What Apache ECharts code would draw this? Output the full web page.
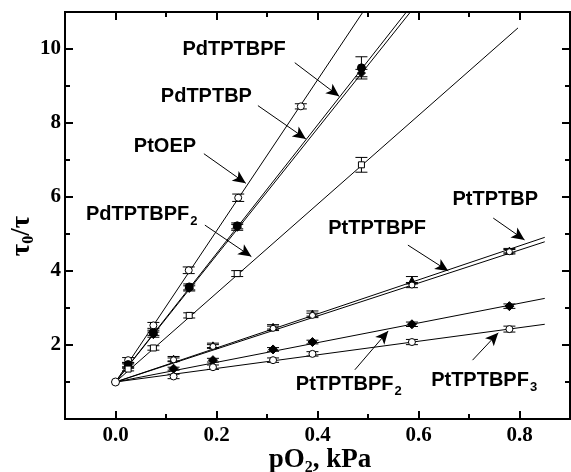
<!DOCTYPE html>
<html>
<head>
<meta charset="utf-8">
<script src="https://cdn.jsdelivr.net/npm/echarts@6/dist/echarts.min.js"></script>
<style>html,body{margin:0;padding:0;background:#fff}#c{width:571px;height:472px}</style>
</head>
<body>
<div id="c"></div>
<script>
// ---- tick values ----
const xMajorTicks = [0, 0.2, 0.4, 0.6, 0.8];
const xMinorTicks = [0.1, 0.3, 0.5, 0.7];
const yMajorTicks = [2, 4, 6, 8, 10];
const yMinorTicks = [1, 3, 5, 7, 9];

// ---- origin point ----
const originX = [0];
const originY = [1];

// ---- measured points (x in kPa, y = tau0/tau), error half-widths ----
const ptoepX = [0.025, 0.075, 0.145, 0.243, 0.367];
const ptoepY = [1.59, 2.53, 4.02, 5.98, 8.45];
const ptoepErr = [0.07, 0.08, 0.09, 0.1, 0.07];

const pdX = [0.025, 0.075, 0.146, 0.241, 0.487];
const pdtptbpfY = [1.47, 2.33, 3.57, 5.22, 9.49];
const pdtptbpfErr = [0.06, 0.07, 0.08, 0.08, 0.3];
const pdtptbpY = [1.43, 2.28, 3.53, 5.18, 9.35];
const pdtptbpErr = [0.06, 0.07, 0.07, 0.08, 0.1];
const pdtptbpf2Y = [1.35, 1.92, 2.80, 3.93, 6.87];
const pdtptbpf2Err = [0.05, 0.06, 0.07, 0.08, 0.2];

const ptX = [0.115, 0.193, 0.312, 0.39, 0.587, 0.78];
const pttptbpY = [1.63, 1.99, 2.49, 2.85, 3.75, 4.55];
const pttptbpErr = [0.06, 0.06, 0.06, 0.07, 0.1, 0.06];
const pttptbpfY = [1.60, 1.96, 2.45, 2.80, 3.62, 4.52];
const pttptbpfErr = [0.05, 0.05, 0.06, 0.06, 0.07, 0.06];
const pttptbpf2Y = [1.36, 1.59, 1.88, 2.08, 2.56, 3.05];
const pttptbpf2Err = [0.04, 0.05, 0.05, 0.05, 0.06, 0.06];
const pttptbpf3Y = [1.15, 1.40, 1.59, 1.76, 2.08, 2.43];
const pttptbpf3Err = [0.06, 0.06, 0.06, 0.06, 0.07, 0.08];

// ---- Stern-Volmer fit lines: start (0,1) and end points ----
const fitNames = ['PtOEP', 'PdTPTBPF', 'PdTPTBP', 'PdTPTBPF2', 'PtTPTBP', 'PtTPTBPF', 'PtTPTBPF2', 'PtTPTBPF3'];
const fitEndX = [0.49, 0.576, 0.584, 0.797, 0.85, 0.85, 0.85, 0.85];
const fitEndY = [11, 11, 11, 10.57, 4.91, 4.79, 3.26, 2.56];

// ---- annotations: label text, label centre, arrow start, arrow end (data units) ----
const annoText = ['{m|PdTPTBPF}', '{m|PdTPTBP}', '{m|PtOEP}', '{m|PdTPTBPF}{s|2}', '{m|PtTPTBP}', '{m|PtTPTBPF}', '{m|PtTPTBPF}{s|2}', '{m|PtTPTBPF}{s|3}'];
const annoX = [0.235, 0.18, 0.098, 0.052, 0.752, 0.518, 0.462, 0.730];
const annoY = [9.98, 8.72, 7.37, 5.54, 5.92, 5.14, 0.93, 1.04];
const arrowX1 = [0.355, 0.282, 0.175, 0.177, 0.748, 0.579, 0.474, 0.707];
const arrowY1 = [9.63, 8.47, 7.17, 5.24, 5.43, 4.70, 1.33, 1.59];
const arrowX2 = [0.443, 0.377, 0.258, 0.269, 0.81, 0.659, 0.54, 0.758];
const arrowY2 = [8.72, 7.57, 6.37, 4.39, 4.84, 4.0, 2.38, 2.33];

const SERIF = '"Liberation Serif", "Times New Roman", serif';
const SANS = '"Liberation Sans", Arial, sans-serif';

function pts(xs, ys) { return xs.map((x, i) => [x, ys[i]]); }
function errs(xs, ys, es) { return xs.map((x, i) => [x, ys[i] - es[i], ys[i] + es[i]]); }

function errorSeries(data) {
  return {
    type: 'custom', xAxisIndex: 0, yAxisIndex: 0, z: 3, silent: true,
    data: data,
    renderItem: function (params, api) {
      const x = api.value(0);
      const lo = api.coord([x, api.value(1)]);
      const hi = api.coord([x, api.value(2)]);
      const w = 6;
      const st = { stroke: '#000', lineWidth: 1, fill: null };
      return {
        type: 'group',
        children: [
          { type: 'line', shape: { x1: lo[0], y1: lo[1], x2: hi[0], y2: hi[1] }, style: st },
          { type: 'line', shape: { x1: lo[0] - w, y1: lo[1], x2: lo[0] + w, y2: lo[1] }, style: st },
          { type: 'line', shape: { x1: hi[0] - w, y1: hi[1], x2: hi[0] + w, y2: hi[1] }, style: st }
        ]
      };
    }
  };
}

function scatterSeries(name, data, symbol, filled, size) {
  return {
    name: name, type: 'scatter', xAxisIndex: 0, yAxisIndex: 0, z: 4, silent: true,
    data: data, symbol: symbol, symbolSize: size || 7,
    itemStyle: { color: filled ? '#000' : '#fff', borderColor: '#000', borderWidth: 1, opacity: 1 }
  };
}

const series = [];
// fit lines
fitNames.forEach((n, i) => {
  series.push({
    type: 'line', xAxisIndex: 0, yAxisIndex: 0, z: 2, silent: true, symbol: 'none',
    data: [[0, 1], [fitEndX[i], fitEndY[i]]],
    lineStyle: { color: '#000', width: 1 }, clip: true
  });
});
// error bars
series.push(errorSeries(errs(ptoepX, ptoepY, ptoepErr)));
series.push(errorSeries(errs(pdX, pdtptbpfY, pdtptbpfErr)));
series.push(errorSeries(errs(pdX, pdtptbpY, pdtptbpErr)));
series.push(errorSeries(errs(pdX, pdtptbpf2Y, pdtptbpf2Err)));
series.push(errorSeries(errs(ptX, pttptbpY, pttptbpErr)));
series.push(errorSeries(errs(ptX, pttptbpfY, pttptbpfErr)));
series.push(errorSeries(errs(ptX, pttptbpf2Y, pttptbpf2Err)));
series.push(errorSeries(errs(ptX, pttptbpf3Y, pttptbpf3Err)));
// markers
series.push(scatterSeries('PtOEP', pts(ptoepX, ptoepY), 'circle', false, 7));
series.push(scatterSeries('PdTPTBPF', pts(pdX, pdtptbpfY), 'circle', true, 8));
series.push(scatterSeries('PdTPTBP', pts(pdX, pdtptbpY), 'diamond', true, 8));
series.push(scatterSeries('PdTPTBPF2', pts(pdX, pdtptbpf2Y), 'rect', false, 6));
series.push(scatterSeries('PtTPTBP', pts(ptX, pttptbpY), 'triangle', true, 7));
series.push(scatterSeries('PtTPTBPF', pts(ptX, pttptbpfY), 'circle', false, 6));
series.push(scatterSeries('PtTPTBPF2', pts(ptX, pttptbpf2Y), 'diamond', true, 9));
series.push(scatterSeries('PtTPTBPF3', pts(ptX, pttptbpf3Y), 'circle', false, 7));
series.push(scatterSeries('origin', pts(originX, originY), 'circle', false, 8));

// annotations
const richStyle = {
  m: { fontFamily: SANS, fontWeight: 'bold', fontSize: 20, color: '#000' },
  s: { fontFamily: SANS, fontWeight: 'bold', fontSize: 13, color: '#000', padding: [14, 0, 0, 1] }
};
series.push({
  type: 'scatter', xAxisIndex: 0, yAxisIndex: 0, z: 5, silent: true,
  data: [], symbolSize: 0,
  markLine: {
    silent: true, symbol: ['none', 'arrow'], symbolSize: [9, 13], precision: 4,
    lineStyle: { color: '#000', width: 1, type: 'solid' },
    label: { show: false }, emphasis: { disabled: true },
    data: arrowX1.map((x, i) => [{ coord: [x, arrowY1[i]] }, { coord: [arrowX2[i], arrowY2[i]] }])
  },
  markPoint: {
    silent: true, symbol: 'circle', symbolSize: 0,
    itemStyle: { color: 'transparent' },
    data: annoText.map((t, i) => ({
      coord: [annoX[i], annoY[i]],
      label: { show: true, position: 'inside', formatter: t, rich: richStyle }
    }))
  }
});

const axisLineStyle = { show: true, onZero: false, lineStyle: { color: '#000', width: 2 } };
const labelFont = { fontFamily: SERIF, fontWeight: 'bold', fontSize: 21, color: '#000' };

function xAx(pos, ticks, len, labels) {
  return {
    type: 'value', position: pos, min: -0.1, max: 0.9,
    axisLine: axisLineStyle,
    axisTick: { show: true, inside: true, length: len, customValues: ticks, lineStyle: { color: '#000', width: 2 } },
    axisLabel: labels ? Object.assign({ show: true, customValues: ticks, margin: 6, formatter: v => v.toFixed(1) }, labelFont) : { show: false },
    splitLine: { show: false }
  };
}
function yAx(pos, ticks, len, labels) {
  return {
    type: 'value', position: pos, min: 0, max: 11,
    axisLine: axisLineStyle,
    axisTick: { show: true, inside: true, length: len, customValues: ticks, lineStyle: { color: '#000', width: 2 } },
    axisLabel: labels ? Object.assign({ show: true, customValues: ticks, margin: 4, formatter: v => String(v) }, labelFont) : { show: false },
    splitLine: { show: false }
  };
}

const chart = echarts.init(document.getElementById('c'), null, { renderer: 'canvas' });
chart.setOption({
  animation: false,
  backgroundColor: '#fff',
  grid: { left: 65, right: 1, top: 12, bottom: 53, containLabel: false },
  xAxis: [
    xAx('bottom', xMajorTicks, 8, true),
    xAx('bottom', xMinorTicks, 5, false),
    xAx('top', xMajorTicks, 8, false),
    xAx('top', xMinorTicks, 5, false)
  ],
  yAxis: [
    yAx('left', yMajorTicks, 8, true),
    yAx('left', yMinorTicks, 5, false),
    yAx('right', yMajorTicks, 8, false),
    yAx('right', yMinorTicks, 5, false)
  ],
  graphic: [
    {
      type: 'text', x: 320, y: 460,
      style: {
        text: '{m|pO}{s|2}{m|, kPa}',
        align: 'center', verticalAlign: 'middle',
        rich: {
          m: { fontFamily: SERIF, fontWeight: 'bold', fontSize: 27, fill: '#000' },
          s: { fontFamily: SERIF, fontWeight: 'bold', fontSize: 16, fill: '#000', padding: [15, 0, 0, 0] }
        }
      }
    },
    {
      type: 'text', x: 22, y: 236, rotation: Math.PI / 2,
      style: {
        text: '{m|τ}{s|0}{m|/τ}',
        align: 'center', verticalAlign: 'middle',
        rich: {
          m: { fontFamily: SERIF, fontWeight: 'bold', fontSize: 27, fill: '#000' },
          s: { fontFamily: SERIF, fontWeight: 'bold', fontSize: 16, fill: '#000', padding: [14, 0, 0, 0] }
        }
      }
    }
  ],
  series: series
});
</script>
</body>
</html>
